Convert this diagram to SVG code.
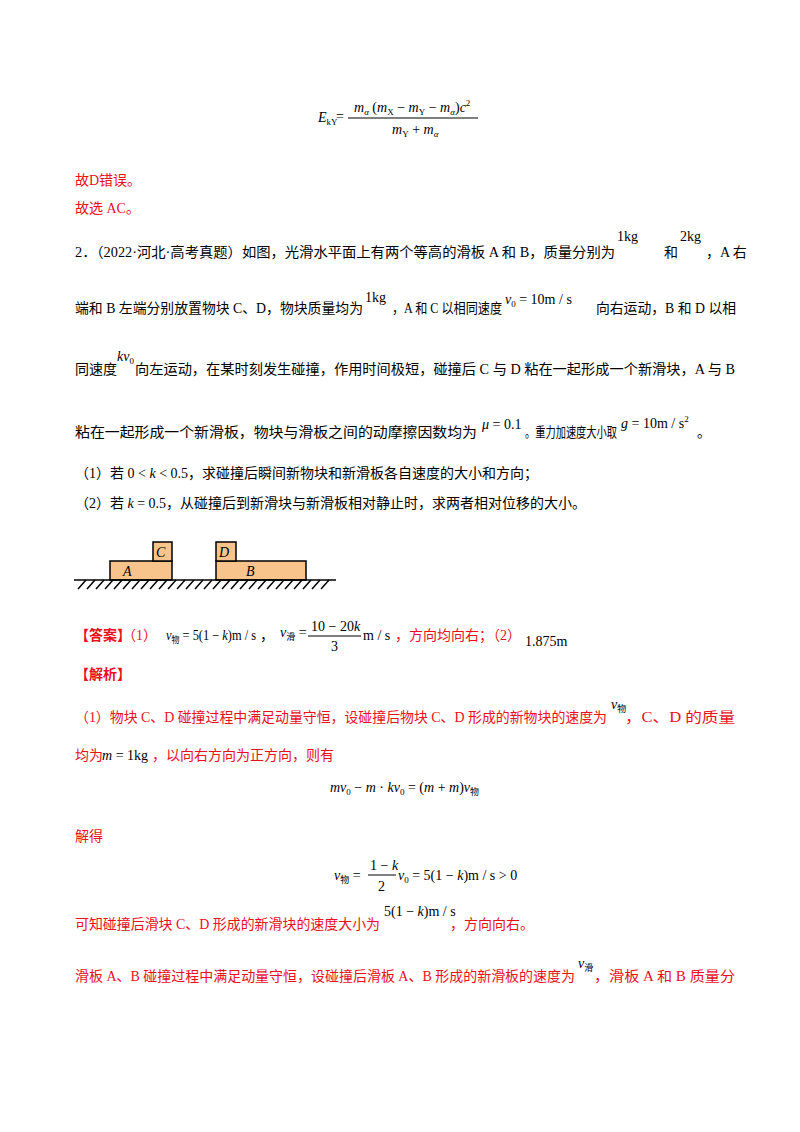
<svg xmlns="http://www.w3.org/2000/svg" width="800" height="1132" viewBox="0 0 800 1132">
<style>
text{font-family:"Liberation Serif","Noto Sans CJK SC",serif;font-size:14px;fill:#000}
.r{fill:#e8101c}
.m{font-family:"Liberation Serif",serif;font-style:italic}
.s{font-size:9px}
.blk{fill:#f8c48c;stroke:#000;stroke-width:1.5}
</style>
<rect width="800" height="1132" fill="#fff"/>
<g id="formula1">
<text x="318" y="122" class="m">E<tspan class="s" font-style="normal" dy="3">kY</tspan></text>
<text x="336" y="121">=</text>
<text x="354" y="112" class="m">m<tspan class="s" dy="3">α</tspan><tspan dy="-3" font-style="normal"> (</tspan>m<tspan class="s" dy="3" font-style="normal">X</tspan><tspan dy="-3" font-style="normal"> − </tspan>m<tspan class="s" dy="3" font-style="normal">Y</tspan><tspan dy="-3" font-style="normal"> − </tspan>m<tspan class="s" dy="3">α</tspan><tspan dy="-3" font-style="normal">)</tspan>c<tspan class="s" dy="-6" font-style="normal">2</tspan></text>
<line x1="348" y1="118" x2="478" y2="118" stroke="#000"/>
<text x="392" y="134" class="m">m<tspan class="s" dy="3" font-style="normal">Y</tspan><tspan dy="-3" font-style="normal"> + </tspan>m<tspan class="s" dy="3">α</tspan></text>
</g>
<text x="75" y="185" class="r">故D错误。</text>
<text x="75" y="213" class="r">故选 AC。</text>
<text x="75" y="257" textLength="540" lengthAdjust="spacingAndGlyphs">2．（2022·河北·高考真题）如图，光滑水平面上有两个等高的滑板 A 和 B，质量分别为</text>
<text x="617" y="241" font-size="15">1kg</text><text x="664" y="257">和</text><text x="680" y="241" font-size="15">2kg</text>
<text x="706" y="257">，A 右</text>
<text x="75" y="313" textLength="288" lengthAdjust="spacingAndGlyphs">端和 B 左端分别放置物块 C、D，物块质量均为</text>
<text x="365" y="302" font-size="15">1kg</text>
<text x="392" y="313" textLength="110" lengthAdjust="spacingAndGlyphs">，A 和 C 以相同速度</text>
<text x="505" y="304"><tspan class="m">v</tspan><tspan class="s" dy="3">0</tspan><tspan dy="-3"> = 10m / s</tspan></text>
<text x="596" y="313" textLength="140" lengthAdjust="spacingAndGlyphs">向右运动，B 和 D 以相</text>
<text x="75" y="374">同速度</text>
<text x="117" y="361"><tspan class="m">kv</tspan><tspan class="s" dy="3">0</tspan></text>
<text x="135" y="374" textLength="600" lengthAdjust="spacingAndGlyphs">向左运动，在某时刻发生碰撞，作用时间极短，碰撞后 C 与 D 粘在一起形成一个新滑块，A 与 B</text>
<text x="75" y="437" textLength="402" lengthAdjust="spacingAndGlyphs">粘在一起形成一个新滑板，物块与滑板之间的动摩擦因数均为</text>
<text x="482" y="429" font-size="12"><tspan class="m">μ</tspan> = 0.1</text>
<text x="525" y="437" textLength="92" lengthAdjust="spacingAndGlyphs">。重力加速度大小取</text>
<text x="621" y="428"><tspan class="m">g</tspan> = 10m / s<tspan class="s" dy="-6">2</tspan></text>
<text x="697" y="437">。</text>
<text x="75" y="478">（1）若 0 &lt; <tspan class="m">k</tspan> &lt; 0.5，求碰撞后瞬间新物块和新滑板各自速度的大小和方向；</text>
<text x="75" y="508">（2）若 <tspan class="m">k</tspan> = 0.5，从碰撞后到新滑块与新滑板相对静止时，求两者相对位移的大小。</text>
<g id="figure">
<rect class="blk" x="110" y="561" width="62" height="19"/>
<rect class="blk" x="153" y="542" width="19" height="19"/>
<rect class="blk" x="216" y="561" width="90" height="19"/>
<rect class="blk" x="216" y="542" width="20" height="19"/>
<line x1="74" y1="580" x2="336" y2="580" stroke="#000" stroke-width="1.5"/>
<path d="M78 589l8-9M87 589l8-9M96 589l8-9M105 589l8-9M114 589l8-9M123 589l8-9M132 589l8-9M141 589l8-9M150 589l8-9M159 589l8-9M168 589l8-9M177 589l8-9M186 589l8-9M195 589l8-9M204 589l8-9M213 589l8-9M222 589l8-9M231 589l8-9M240 589l8-9M249 589l8-9M258 589l8-9M267 589l8-9M276 589l8-9M285 589l8-9M294 589l8-9M303 589l8-9M312 589l8-9M321 589l8-9" stroke="#000" stroke-width="1.5"/>
<text x="123" y="576" class="m">A</text>
<text x="156" y="557" class="m">C</text>
<text x="246" y="576" class="m">B</text>
<text x="219" y="557" class="m">D</text>
</g>
<text x="75" y="640" class="r" font-weight="bold">【答案】</text>
<text x="122" y="640" class="r">（1）</text>
<text x="166" y="640" textLength="90" lengthAdjust="spacingAndGlyphs"><tspan class="m">v</tspan><tspan class="s" dy="3">物</tspan><tspan dy="-3"> = 5(1 − </tspan><tspan class="m">k</tspan>)m / s</text>
<text x="260" y="640">，</text>
<text x="280" y="637"><tspan class="m">v</tspan><tspan class="s" dy="3">滑</tspan><tspan dy="-3"> =</tspan></text>
<text x="311" y="631">10 − 20<tspan class="m">k</tspan></text>
<line x1="308" y1="636" x2="361" y2="636" stroke="#000"/>
<text x="331" y="651">3</text>
<text x="363" y="640">m / s</text>
<text x="395" y="640" class="r">，方向均向右；（2）</text>
<text x="525" y="646">1.875m</text>
<text x="75" y="679" class="r" font-weight="bold">【解析】</text>
<text x="75" y="722" class="r" textLength="532" lengthAdjust="spacingAndGlyphs">（1）物块 C、D 碰撞过程中满足动量守恒，设碰撞后物块 C、D 形成的新物块的速度为</text>
<text x="611" y="709"><tspan class="m">v</tspan><tspan class="s" dy="3">物</tspan></text>
<text x="625" y="722" class="r" textLength="110" lengthAdjust="spacingAndGlyphs">，C、D 的质量</text>
<text x="75" y="760" class="r">均为</text>
<text x="102" y="760"><tspan class="m">m</tspan> = 1kg</text>
<text x="152" y="760" class="r">，以向右方向为正方向，则有</text>
<text x="330" y="792"><tspan class="m">mv</tspan><tspan class="s" dy="3">0</tspan><tspan dy="-3"> − </tspan><tspan class="m">m</tspan> · <tspan class="m">kv</tspan><tspan class="s" dy="3">0</tspan><tspan dy="-3"> = (</tspan><tspan class="m">m</tspan> + <tspan class="m">m</tspan>)<tspan class="m">v</tspan><tspan class="s" dy="3">物</tspan></text>
<text x="75" y="841" class="r">解得</text>
<text x="334" y="880"><tspan class="m">v</tspan><tspan class="s" dy="3">物</tspan><tspan dy="-3"> =</tspan></text>
<text x="370" y="870">1 − <tspan class="m">k</tspan></text>
<line x1="368" y1="875" x2="396" y2="875" stroke="#000"/>
<text x="378" y="891">2</text>
<text x="398" y="880"><tspan class="m">v</tspan><tspan class="s" dy="3">0</tspan><tspan dy="-3"> = 5(1 − </tspan><tspan class="m">k</tspan>)m / s &gt; 0</text>
<text x="75" y="929" class="r" textLength="305" lengthAdjust="spacingAndGlyphs">可知碰撞后滑块 C、D 形成的新滑块的速度大小为</text>
<text x="384" y="916">5(1 − <tspan class="m">k</tspan>)m / s</text>
<text x="450" y="929" class="r">，方向向右。</text>
<text x="75" y="981" class="r" textLength="500" lengthAdjust="spacingAndGlyphs">滑板 A、B 碰撞过程中满足动量守恒，设碰撞后滑板 A、B 形成的新滑板的速度为</text>
<text x="578" y="968"><tspan class="m">v</tspan><tspan class="s" dy="3">滑</tspan></text>
<text x="594" y="981" class="r" textLength="141" lengthAdjust="spacingAndGlyphs">，滑板 A 和 B 质量分</text>
</svg>
